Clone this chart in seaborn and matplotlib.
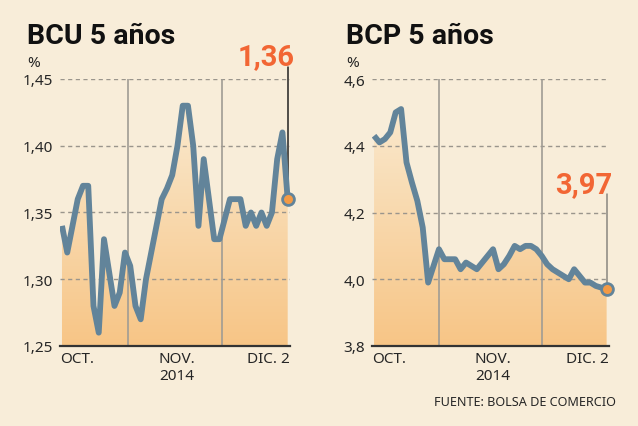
import numpy as np
import pandas as pd
import matplotlib
matplotlib.use("Agg")
import matplotlib.pyplot as plt
import seaborn as sns
from matplotlib.colors import LinearSegmentedColormap

# BCU 5 años, daily rate (%), 1 Oct - 2 Dec 2014
bcu = [1.34, 1.32, 1.34, 1.36, 1.37, 1.37, 1.28, 1.26, 1.33, 1.305, 1.28,
       1.29, 1.32, 1.31, 1.28, 1.27, 1.30, 1.32, 1.34, 1.36, 1.368, 1.378,
       1.40, 1.43, 1.43, 1.40, 1.34, 1.39, 1.36, 1.33, 1.33, 1.345, 1.36,
       1.36, 1.36, 1.34, 1.35, 1.34, 1.35, 1.34, 1.35, 1.39, 1.41, 1.36]

# BCP 5 años
bcp = [4.43, 4.41, 4.42, 4.44, 4.50, 4.51, 4.35, 4.29, 4.235, 4.155, 3.99,
       4.04, 4.09, 4.06, 4.06, 4.06, 4.03, 4.05, 4.04, 4.03, 4.05, 4.07,
       4.09, 4.03, 4.045, 4.07, 4.10, 4.09, 4.10, 4.10, 4.09, 4.07, 4.045,
       4.03, 4.02, 4.01, 4.00, 4.03, 4.01, 3.99, 3.99, 3.98, 3.975, 3.97]

bcu_ticks = [1.25, 1.30, 1.35, 1.40, 1.45]
bcp_ticks = [3.8, 4.0, 4.2, 4.4, 4.6]
bcu_labels = ["1,25", "1,30", "1,35", "1,40", "1,45"]
bcp_labels = ["3,8", "4,0", "4,2", "4,4", "4,6"]

BG = "#F8EDD9"
LINE = "#62849A"
ORANGE = "#F26634"
DOT = "#F39A45"
BOLD = ["Roboto", "DejaVu Sans"]

sns.set_style("white", {"axes.facecolor": BG, "figure.facecolor": BG})
plt.rcParams["font.family"] = ["Noto Sans", "DejaVu Sans"]

fig = plt.figure(figsize=(6.38, 4.27), dpi=100)
fig.patch.set_facecolor(BG)

grad_cmap = LinearSegmentedColormap.from_list("g", ["#FAEDD6", "#F7C586"])


def panel(rect, values, ticks, labels, last_txt, vlines, lead_col, lead_top, txt_x, txt_y):
    ax = fig.add_axes(rect)
    ax.set_facecolor(BG)
    df = pd.DataFrame({"d": np.arange(len(values)), "v": values})
    x0, x1 = -0.38, 43.44
    y0, y1 = ticks[0], ticks[-1]

    # gradient fill under the line (light at top, orange at the base)
    poly = ax.fill_between(df["d"], df["v"], y0, color="none", lw=0)
    grad = np.linspace(1, 0, 256).reshape(-1, 1)
    img = ax.imshow(grad, extent=[x0, x1, y0, y1], aspect="auto", cmap=grad_cmap,
                    zorder=1, origin="lower")
    img.set_clip_path(poly.get_paths()[0], transform=ax.transData)

    for t in ticks[1:]:
        ax.axhline(t, color="#9A958C", lw=1, ls=(0, (3, 2.5)), zorder=2)
    for v in vlines:
        ax.axvline(v, color="#A09C94", lw=1.2, zorder=2)

    sns.lineplot(data=df, x="d", y="v", ax=ax, color=LINE, lw=4.2, zorder=4,
                 solid_joinstyle="round", solid_capstyle="butt")

    # leader line and last value
    ax.plot([df["d"].iloc[-1]] * 2, [values[-1], lead_top], color=lead_col, lw=1.1,
            clip_on=False, zorder=3)
    ax.plot(df["d"].iloc[-1], values[-1], "o", ms=8.5, mfc=DOT, mec=LINE, mew=2,
            clip_on=False, zorder=5)
    ax.text(txt_x, txt_y, last_txt, color=ORANGE, fontsize=21, fontweight="bold",
            family=BOLD, ha="center", va="baseline", clip_on=False)

    ax.set_xlim(x0, x1)
    ax.set_ylim(y0, y1)
    ax.set_yticks(ticks)
    ax.set_yticklabels(labels, fontsize=11)
    ax.tick_params(axis="y", length=0, pad=5)
    ax.set_xticks([])
    ax.set_xlabel("")
    ax.set_ylabel("")
    for s in ["top", "right", "left"]:
        ax.spines[s].set_visible(False)
    ax.spines["bottom"].set_color("#333333")
    ax.spines["bottom"].set_linewidth(1.6)
    ax.spines["bottom"].set_zorder(6)

    tr = ax.get_xaxis_transform()
    ax.text(x0, -0.02, "OCT.", transform=tr, ha="left", va="top", fontsize=11)
    ax.text(21.9, -0.02, "NOV.\n2014", transform=tr, ha="center", va="top",
            fontsize=11, linespacing=1.15)
    ax.text(x1, -0.02, "DIC. 2", transform=tr, ha="right", va="top", fontsize=11)
    return ax


ax1 = panel([60 / 638, 80 / 427, 230 / 638, 267 / 427], bcu, bcu_ticks, bcu_labels,
            "1,36", [12.57, 30.5], "#222222", 1.459, 38.9, 1.4615)
ax2 = panel([372 / 638, 80 / 427, 237 / 638, 267 / 427], bcp, bcp_ticks, bcp_labels,
            "3,97", [12.0, 31.05], "#8A8680", 4.255, 38.8, 4.262)

for xp, title in [(27, "BCU 5 años"), (346, "BCP 5 años")]:
    fig.text(xp / 638, 1 - 44 / 427, title, fontsize=20.5, fontweight="bold",
             family=BOLD, ha="left", va="baseline", color="#111111")
    fig.text(xp / 638, 1 - 67 / 427, "%", fontsize=11, ha="left", va="baseline")

fig.text(616 / 638, 1 - 406 / 427, "FUENTE: BOLSA DE COMERCIO", fontsize=9.1,
         ha="right", va="baseline")

fig.savefig("out.png", dpi=100, facecolor=BG)
